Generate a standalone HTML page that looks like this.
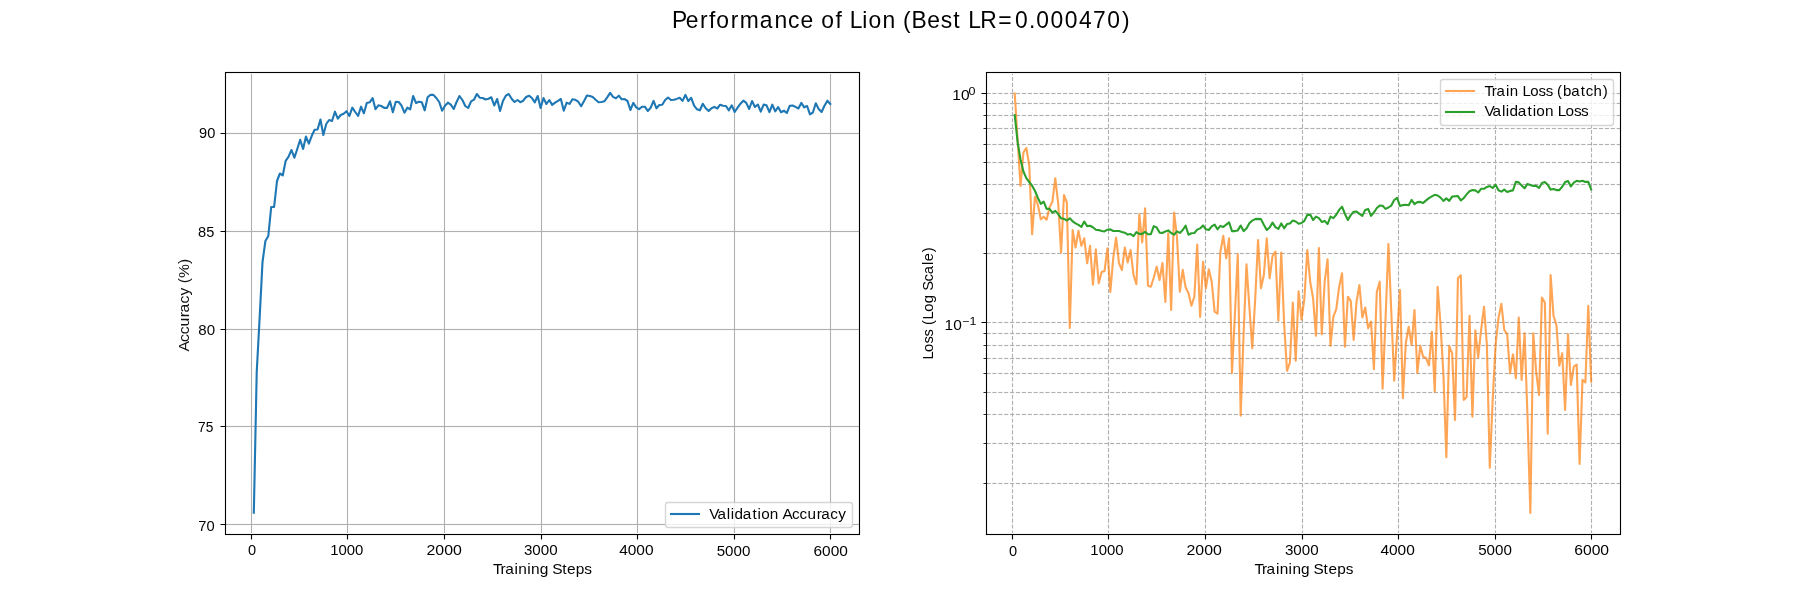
<!DOCTYPE html><html><head><meta charset="utf-8"><title>Performance of Lion</title><style>html,body{margin:0;padding:0;background:#fff;}svg{display:block;}text{font-family:"Liberation Sans",sans-serif;}</style></head><body>
<svg width="1800" height="600" viewBox="0 0 1800 600">
<rect x="0" y="0" width="1800" height="600" fill="#fff"/>
<defs><clipPath id="c1"><rect x="225.0" y="72.0" width="634.0909" height="462.0"/></clipPath><clipPath id="c2"><rect x="985.9091" y="72.0" width="634.0909" height="462.0"/></clipPath></defs>
<path d="M225.5 524.5H859.5M225.5 426.5H859.5M225.5 329.5H859.5M225.5 231.5H859.5M225.5 133.5H859.5" stroke="#fafafa" stroke-width="3" fill="none" clip-path="url(#c1)"/>
<path id="grid1" d="M251.5 72.5V534.5M347.5 72.5V534.5M444.5 72.5V534.5M541.5 72.5V534.5M637.5 72.5V534.5M734.5 72.5V534.5M830.5 72.5V534.5M225.5 524.5H859.5M225.5 426.5H859.5M225.5 329.5H859.5M225.5 231.5H859.5M225.5 133.5H859.5" stroke="#b0b0b0" stroke-width="1.1111" fill="none" clip-path="url(#c1)"/>
<path d="M986.5 483.5H1620.5M986.5 443.5H1620.5M986.5 414.5H1620.5M986.5 392.5H1620.5M986.5 373.5H1620.5M986.5 358.5H1620.5M986.5 345.5H1620.5M986.5 333.5H1620.5M986.5 322.5H1620.5M986.5 253.5H1620.5M986.5 213.5H1620.5M986.5 184.5H1620.5M986.5 162.5H1620.5M986.5 144.5H1620.5M986.5 128.5H1620.5M986.5 115.5H1620.5M986.5 103.5H1620.5M986.5 93.5H1620.5" stroke="#fafafa" stroke-width="3" fill="none" stroke-dasharray="4.111 1.778" clip-path="url(#c2)"/>
<path id="grid2" d="M1012.5 534.5V72.5M1108.5 534.5V72.5M1205.5 534.5V72.5M1302.5 534.5V72.5M1398.5 534.5V72.5M1495.5 534.5V72.5M1591.5 534.5V72.5M986.5 483.5H1620.5M986.5 443.5H1620.5M986.5 414.5H1620.5M986.5 392.5H1620.5M986.5 373.5H1620.5M986.5 358.5H1620.5M986.5 345.5H1620.5M986.5 333.5H1620.5M986.5 322.5H1620.5M986.5 253.5H1620.5M986.5 213.5H1620.5M986.5 184.5H1620.5M986.5 162.5H1620.5M986.5 144.5H1620.5M986.5 128.5H1620.5M986.5 115.5H1620.5M986.5 103.5H1620.5M986.5 93.5H1620.5" stroke="#b0b0b0" stroke-width="1.1111" fill="none" stroke-dasharray="4.111 1.778" clip-path="url(#c2)"/>
<polyline id="acc" points="253.82,512.70 256.72,372.00 259.62,318.00 262.51,262.00 265.41,241.00 268.31,236.00 271.20,207.00 274.10,207.00 277.00,181.00 279.89,173.50 282.79,175.40 285.69,160.80 288.58,156.70 291.48,150.00 294.38,157.70 297.27,149.00 300.17,139.80 303.07,149.00 305.96,136.60 308.86,143.70 311.76,135.80 314.65,129.80 317.55,129.50 320.45,119.50 323.34,135.00 326.24,124.00 329.14,120.00 332.03,121.00 334.93,111.70 337.83,118.70 340.72,115.00 343.62,113.70 346.52,111.20 349.41,116.00 352.31,107.70 355.21,112.00 358.10,116.00 361.00,106.70 363.90,113.20 366.79,103.00 369.69,102.30 372.59,98.00 375.48,109.20 378.38,105.30 381.28,106.00 384.17,107.90 387.07,107.90 389.97,101.30 392.86,112.30 395.76,101.70 398.66,102.00 401.55,105.70 404.45,112.70 407.35,107.70 410.24,109.30 413.14,96.00 416.04,103.00 418.93,101.70 421.83,102.30 424.73,110.30 427.62,97.30 430.52,94.70 433.42,94.90 436.31,98.00 439.21,102.00 442.11,110.70 445.00,105.70 447.90,102.70 450.80,104.70 453.69,109.00 456.59,102.00 459.49,96.00 462.39,100.00 465.28,106.00 468.18,108.00 471.08,101.30 473.97,99.70 476.87,94.00 479.77,97.70 482.66,98.00 485.56,99.50 488.46,98.70 491.35,97.30 494.25,105.50 497.15,99.00 500.04,111.00 502.94,101.00 505.84,95.70 508.73,94.00 511.63,98.70 514.53,102.00 517.42,100.00 520.32,102.20 523.22,100.70 526.11,97.00 529.01,95.70 531.91,98.00 534.80,102.30 537.70,96.00 540.60,108.00 543.49,98.00 546.39,104.00 549.29,100.00 552.18,104.90 555.08,102.70 557.98,100.90 560.87,99.00 563.77,110.70 566.67,102.70 569.56,103.90 572.46,99.30 575.36,99.80 578.25,101.70 581.15,106.20 584.05,101.00 586.94,95.50 589.84,96.00 592.74,97.10 595.63,99.80 598.53,102.20 601.43,102.00 604.32,101.30 607.22,97.30 610.12,92.90 613.01,96.90 615.91,98.20 618.81,95.70 621.70,99.30 624.60,99.10 627.50,101.00 630.39,110.00 633.29,102.90 636.19,107.30 639.08,109.10 641.98,106.70 644.88,106.70 647.77,111.00 650.67,107.70 653.57,100.90 656.46,108.30 659.36,105.00 662.26,104.70 665.15,100.00 668.05,97.50 670.95,100.00 673.84,99.80 676.74,98.90 679.64,97.70 682.53,100.90 685.43,94.90 688.33,101.10 691.22,97.80 694.12,105.70 697.02,109.30 699.91,110.30 702.81,103.80 705.71,108.30 708.60,110.90 711.50,108.20 714.40,106.90 717.29,108.50 720.19,104.70 723.09,105.80 725.98,106.00 728.88,110.30 731.78,105.30 734.67,112.00 737.57,107.70 740.47,103.70 743.37,100.60 746.26,102.90 749.16,109.00 752.06,101.00 754.95,107.00 757.85,104.50 760.75,111.70 763.64,104.60 766.54,105.30 769.44,112.10 772.33,104.70 775.23,111.30 778.13,107.00 781.02,112.20 783.92,110.70 786.82,113.00 789.71,105.80 792.61,105.50 795.51,106.90 798.40,108.50 801.30,102.90 804.20,107.30 807.09,106.00 809.99,114.30 812.89,112.50 815.78,103.30 818.68,109.00 821.58,112.00 824.47,105.70 827.37,100.70 830.27,104.00" fill="none" stroke="#1f77b4" stroke-width="2.11" stroke-linejoin="round" stroke-linecap="square" clip-path="url(#c1)"/>
<polyline id="tl" points="1014.73,93.50 1017.63,140.00 1020.53,186.00 1023.42,152.50 1026.32,148.00 1029.22,165.00 1032.11,234.20 1035.01,196.70 1037.91,205.00 1040.80,219.20 1043.70,216.70 1046.60,219.70 1049.49,207.50 1052.39,201.70 1055.29,178.30 1058.18,203.30 1061.08,252.50 1063.98,195.00 1066.87,202.50 1069.77,328.00 1072.67,230.00 1075.56,247.50 1078.46,230.80 1081.36,245.80 1084.25,238.30 1087.15,263.30 1090.05,245.80 1092.94,284.70 1095.84,249.20 1098.74,283.30 1101.63,272.00 1104.53,271.00 1107.43,248.30 1110.32,292.00 1113.22,258.30 1116.12,237.50 1119.01,263.30 1121.91,270.00 1124.81,247.50 1127.70,262.50 1130.60,250.00 1133.50,275.00 1136.39,284.20 1139.29,214.20 1142.19,242.50 1145.08,208.30 1147.98,285.80 1150.88,286.70 1153.77,277.50 1156.67,266.70 1159.57,280.00 1162.46,263.00 1165.36,302.00 1168.26,233.30 1171.15,310.00 1174.05,212.50 1176.95,236.70 1179.84,291.70 1182.74,269.80 1185.64,287.50 1188.53,293.30 1191.43,305.80 1194.33,296.70 1197.22,244.60 1200.12,317.00 1203.02,261.70 1205.91,288.30 1208.81,269.20 1211.71,281.70 1214.60,311.70 1217.50,313.70 1220.40,251.70 1223.29,235.80 1226.19,258.30 1229.09,238.30 1231.98,373.00 1234.88,315.00 1237.78,254.20 1240.67,415.80 1243.57,335.00 1246.47,264.20 1249.36,306.70 1252.26,348.30 1255.16,300.00 1258.05,240.00 1260.95,288.30 1263.85,275.00 1266.74,238.30 1269.64,278.30 1272.54,255.80 1275.43,251.70 1278.33,320.80 1281.23,252.50 1284.12,323.30 1287.02,370.80 1289.92,362.50 1292.81,302.50 1295.71,360.80 1298.61,291.30 1301.51,319.70 1304.40,298.30 1307.30,250.00 1310.20,281.70 1313.09,298.30 1315.99,335.80 1318.89,248.00 1321.78,334.20 1324.68,281.70 1327.58,259.20 1330.47,345.80 1333.37,316.70 1336.27,309.20 1339.16,286.70 1342.06,273.30 1344.96,346.70 1347.85,296.70 1350.75,300.80 1353.65,340.00 1356.54,301.70 1359.44,285.00 1362.34,317.50 1365.23,307.50 1368.13,328.30 1371.03,321.70 1373.92,369.20 1376.82,291.70 1379.72,281.70 1382.61,388.80 1385.51,320.00 1388.41,244.00 1391.30,312.00 1394.20,380.80 1397.10,335.00 1399.99,290.00 1402.89,398.30 1405.79,343.30 1408.68,326.70 1411.58,345.00 1414.48,310.00 1417.37,373.00 1420.27,345.80 1423.17,356.70 1426.06,358.00 1428.96,365.30 1431.86,331.70 1434.75,391.70 1437.65,286.70 1440.55,325.00 1443.44,375.00 1446.34,457.30 1449.24,345.80 1452.13,353.30 1455.03,420.00 1457.93,278.30 1460.82,275.30 1463.72,400.00 1466.62,397.00 1469.51,315.80 1472.41,416.70 1475.31,330.30 1478.20,357.50 1481.10,330.00 1484.00,306.70 1486.89,345.00 1489.79,467.80 1492.69,400.00 1495.58,345.00 1498.48,318.00 1501.38,303.80 1504.27,330.00 1507.17,334.20 1510.07,373.30 1512.96,354.20 1515.86,378.30 1518.76,317.50 1521.65,380.00 1524.55,333.30 1527.45,415.00 1530.34,513.00 1533.24,333.30 1536.14,371.70 1539.03,395.00 1541.93,297.50 1544.83,302.50 1547.72,433.80 1550.62,275.00 1553.52,315.80 1556.41,325.00 1559.31,365.80 1562.21,353.30 1565.10,410.00 1568.00,334.20 1570.90,385.00 1573.79,366.70 1576.69,364.70 1579.59,464.00 1582.48,379.70 1585.38,382.50 1588.28,305.80 1591.18,381.70" fill="none" stroke="#ff7f0e" stroke-opacity="0.7" stroke-width="2.11" stroke-linejoin="round" stroke-linecap="square" clip-path="url(#c2)"/>
<polyline id="vl" points="1014.73,115.20 1017.63,142.20 1020.53,159.50 1023.42,171.50 1026.32,178.20 1029.22,182.00 1032.11,185.70 1035.01,191.00 1037.91,198.00 1040.80,203.90 1043.70,201.60 1046.60,208.90 1049.49,208.90 1052.39,212.60 1055.29,210.90 1058.18,214.10 1061.08,218.30 1063.98,218.90 1066.87,220.50 1069.77,218.30 1072.67,221.30 1075.56,223.40 1078.46,224.90 1081.36,226.90 1084.25,221.60 1087.15,226.10 1090.05,225.80 1092.94,227.30 1095.84,229.70 1098.74,230.10 1101.63,231.00 1104.53,231.40 1107.43,229.70 1110.32,229.40 1113.22,231.00 1116.12,231.00 1119.01,231.00 1121.91,231.90 1124.81,232.70 1127.70,234.60 1130.60,234.00 1133.50,236.10 1136.39,232.10 1139.29,233.90 1142.19,233.90 1145.08,231.80 1147.98,234.20 1150.88,234.20 1153.77,226.20 1156.67,227.40 1159.57,232.60 1162.46,233.00 1165.36,231.40 1168.26,230.40 1171.15,233.00 1174.05,234.70 1176.95,231.40 1179.84,232.90 1182.74,230.00 1185.64,225.70 1188.53,234.70 1191.43,233.20 1194.33,233.00 1197.22,229.60 1200.12,228.40 1203.02,225.40 1205.91,229.30 1208.81,230.00 1211.71,226.30 1214.60,224.60 1217.50,229.30 1220.40,225.90 1223.29,227.00 1226.19,224.60 1229.09,222.40 1231.98,231.10 1234.88,231.10 1237.78,230.40 1240.67,225.50 1243.57,231.10 1246.47,228.50 1249.36,223.30 1252.26,220.60 1255.16,219.10 1258.05,218.90 1260.95,219.10 1263.85,224.80 1266.74,230.00 1269.64,227.50 1272.54,222.60 1275.43,227.10 1278.33,228.90 1281.23,223.40 1284.12,228.30 1287.02,224.10 1289.92,223.40 1292.81,220.60 1295.71,221.50 1298.61,223.80 1301.51,223.00 1304.40,220.80 1307.30,214.90 1310.20,214.60 1313.09,220.00 1315.99,216.60 1318.89,218.10 1321.78,221.90 1324.68,220.90 1327.58,224.10 1330.47,216.60 1333.37,218.10 1336.27,214.80 1339.16,209.90 1342.06,206.70 1344.96,214.00 1347.85,220.00 1350.75,215.10 1353.65,211.80 1356.54,211.60 1359.44,213.90 1362.34,215.90 1365.23,209.90 1368.13,208.90 1371.03,215.90 1373.92,212.50 1376.82,208.00 1379.72,205.60 1382.61,205.80 1385.51,208.90 1388.41,207.50 1391.30,205.60 1394.20,200.00 1397.10,197.80 1399.99,206.00 1402.89,205.10 1405.79,204.70 1408.68,205.30 1411.58,199.90 1414.48,204.10 1417.37,202.10 1420.27,201.90 1423.17,203.00 1426.06,200.40 1428.96,198.10 1431.86,196.40 1434.75,194.80 1437.65,195.50 1440.55,197.60 1443.44,200.90 1446.34,198.40 1449.24,200.90 1452.13,196.60 1455.03,196.30 1457.93,196.10 1460.82,200.40 1463.72,198.10 1466.62,194.40 1469.51,191.20 1472.41,190.10 1475.31,190.40 1478.20,192.50 1481.10,188.80 1484.00,188.80 1486.89,186.90 1489.79,186.10 1492.69,188.00 1495.58,184.80 1498.48,190.20 1501.38,191.60 1504.27,189.60 1507.17,192.00 1510.07,190.90 1512.96,190.40 1515.86,181.90 1518.76,182.40 1521.65,185.60 1524.55,188.30 1527.45,183.90 1530.34,184.90 1533.24,185.90 1536.14,185.90 1539.03,187.90 1541.93,182.90 1544.83,182.10 1547.72,184.70 1550.62,189.60 1553.52,189.00 1556.41,190.10 1559.31,190.10 1562.21,186.80 1565.10,182.10 1568.00,181.10 1570.90,186.40 1573.79,182.60 1576.69,180.80 1579.59,181.50 1582.48,180.80 1585.38,181.90 1588.28,181.90 1591.18,189.50" fill="none" stroke="#2ca02c" stroke-width="2.09" stroke-linejoin="round" stroke-linecap="square" clip-path="url(#c2)"/>
<path d="M224.94 72.5H860.06M224.94 534.5H860.06" stroke="#f1f1f1" stroke-width="3" fill="none"/>
<path id="sp1" d="M225.5 534.5V72.5M859.5 534.5V72.5M224.94 72.5H860.06M224.94 534.5H860.06" stroke="#000" stroke-width="1.1111" fill="none" stroke-linecap="butt"/>
<path d="M985.94 72.5H1621.06M985.94 534.5H1621.06" stroke="#f1f1f1" stroke-width="3" fill="none"/>
<path id="sp2" d="M986.5 534.5V72.5M1620.5 534.5V72.5M985.94 72.5H1621.06M985.94 534.5H1621.06" stroke="#000" stroke-width="1.1111" fill="none" stroke-linecap="butt"/>
<path id="ticks" d="M251.5 534.5v5.0M347.5 534.5v5.0M444.5 534.5v5.0M541.5 534.5v5.0M637.5 534.5v5.0M734.5 534.5v5.0M830.5 534.5v5.0M1012.5 534.5v5.0M1108.5 534.5v5.0M1205.5 534.5v5.0M1302.5 534.5v5.0M1398.5 534.5v5.0M1495.5 534.5v5.0M1591.5 534.5v5.0M225.5 524.5h-5.0M225.5 426.5h-5.0M225.5 329.5h-5.0M225.5 231.5h-5.0M225.5 133.5h-5.0M986.5 322.5h-5.0M986.5 93.5h-5.0" stroke="#000" stroke-width="1.1111" fill="none"/>
<path id="mticks" d="M986.5 483.5h-3.0M986.5 443.5h-3.0M986.5 414.5h-3.0M986.5 392.5h-3.0M986.5 373.5h-3.0M986.5 358.5h-3.0M986.5 345.5h-3.0M986.5 333.5h-3.0M986.5 253.5h-3.0M986.5 213.5h-3.0M986.5 184.5h-3.0M986.5 162.5h-3.0M986.5 144.5h-3.0M986.5 128.5h-3.0M986.5 115.5h-3.0M986.5 103.5h-3.0" stroke="#000" stroke-width="0.8333" fill="none"/>
<rect id="leg1" x="665.5" y="502.5" width="187.0" height="25.0" rx="2.7778" ry="2.7778" fill="#fff" fill-opacity="0.8" stroke="#cccccc" stroke-opacity="0.8" stroke-width="1.3889"/>
<path d="M671 514H699" stroke="#1f77b4" stroke-width="2.11" stroke-linecap="square"/>
<rect id="leg2" x="1440.5" y="79.5" width="173.0" height="46.0" rx="2.7778" ry="2.7778" fill="#fff" fill-opacity="0.8" stroke="#cccccc" stroke-opacity="0.8" stroke-width="1.3889"/>
<path d="M1446 91H1474" stroke="#ff7f0e" stroke-opacity="0.7" stroke-width="2.11" stroke-linecap="square"/>
<path d="M1446 112H1474" stroke="#2ca02c" stroke-width="2.11" stroke-linecap="square"/>
<g style="opacity:0.999">
<text id="title" transform="scale(0.9900,1)" x="678.80 692.63 707.08 716.25 723.62 738.14 747.27 767.36 782.24 795.90 808.67 821.90 829.55 843.90 850.82 858.32 871.08 877.28 891.33 904.86 912.01 920.73 936.70 950.16 962.81 970.52 978.02 990.04 1008.41 1025.27 1039.30 1046.73 1061.13 1075.52 1089.91 1104.14 1118.45 1133.25" y="28.00" font-size="23.1">Performance of Lion (Best LR=0.000470)</text>
<text id="ax1_xt_0" x="247.93" y="555.33" font-size="14.7" textLength="8.14" lengthAdjust="spacingAndGlyphs">0</text>
<text id="ax1_xt_1000" x="330.13" y="555.33" font-size="14.9" textLength="33.19" lengthAdjust="spacingAndGlyphs">1000</text>
<text id="ax1_xt_2000" x="426.47" y="555.33" font-size="14.8" textLength="35.38" lengthAdjust="spacingAndGlyphs">2000</text>
<text id="ax1_xt_3000" x="523.93" y="555.33" font-size="14.8" textLength="33.65" lengthAdjust="spacingAndGlyphs">3000</text>
<text id="ax1_xt_4000" x="619.16" y="555.33" font-size="14.8" textLength="34.42" lengthAdjust="spacingAndGlyphs">4000</text>
<text id="ax1_xt_5000" x="716.65" y="555.83" font-size="14.8" textLength="33.68" lengthAdjust="spacingAndGlyphs">5000</text>
<text id="ax1_xt_6000" x="813.47" y="555.83" font-size="14.8" textLength="34.39" lengthAdjust="spacingAndGlyphs">6000</text>
<text id="ax1_xlabel" transform="scale(1.0600,1)" x="465.09 472.17 476.55 485.45 489.02 497.36 500.93 509.09 517.43 520.92 530.32 535.00 543.20 551.26" y="573.58" font-size="14.6" fill="#040404">Training Steps</text>
<text id="ax2_xt_0" x="1008.93" y="555.83" font-size="14.7" textLength="8.14" lengthAdjust="spacingAndGlyphs">0</text>
<text id="ax2_xt_1000" x="1090.38" y="555.33" font-size="14.8" textLength="33.19" lengthAdjust="spacingAndGlyphs">1000</text>
<text id="ax2_xt_2000" x="1186.47" y="555.33" font-size="14.8" textLength="35.38" lengthAdjust="spacingAndGlyphs">2000</text>
<text id="ax2_xt_3000" x="1284.93" y="555.33" font-size="14.8" textLength="33.65" lengthAdjust="spacingAndGlyphs">3000</text>
<text id="ax2_xt_4000" x="1380.41" y="555.33" font-size="14.8" textLength="34.42" lengthAdjust="spacingAndGlyphs">4000</text>
<text id="ax2_xt_5000" x="1478.15" y="555.33" font-size="14.8" textLength="33.68" lengthAdjust="spacingAndGlyphs">5000</text>
<text id="ax2_xt_6000" x="1574.21" y="555.33" font-size="14.8" textLength="34.89" lengthAdjust="spacingAndGlyphs">6000</text>
<text id="ax2_xlabel" transform="scale(1.0600,1)" x="1183.44 1190.50 1194.89 1203.77 1207.36 1215.68 1219.27 1227.43 1235.75 1239.27 1248.64 1253.34 1261.54 1269.59" y="573.58" font-size="14.5">Training Steps</text>
<text id="ax1_yt_70" x="198.25" y="530.83" font-size="14.8" textLength="16.33" lengthAdjust="spacingAndGlyphs">70</text>
<text id="ax1_yt_75" x="198.05" y="432.18" font-size="15.0" textLength="15.28" lengthAdjust="spacingAndGlyphs">75</text>
<text id="ax1_yt_80" x="198.32" y="334.83" font-size="14.8" textLength="16.78" lengthAdjust="spacingAndGlyphs" fill="#080808">80</text>
<text id="ax1_yt_85" x="198.12" y="236.83" font-size="14.8" textLength="16.25" lengthAdjust="spacingAndGlyphs">85</text>
<text id="ax1_yt_90" x="199.06" y="138.33" font-size="14.8" textLength="16.26" lengthAdjust="spacingAndGlyphs">90</text>
<text id="ax1_ylabel" transform="translate(188.83,348.94) rotate(-90) scale(1.0750,1)" x="-2.31 6.48 13.58 20.94 29.52 33.81 42.18 49.70 57.21 61.00 66.04 79.07" y="0" font-size="14.6" fill="#101010">Accuracy (%)</text>
<text id="ax2_ylabel" transform="translate(932.58,359.06) rotate(-90) scale(0.9850,1)" x="-0.46 7.25 15.76 22.99 30.20 34.52 40.27 47.99 56.69 65.48 69.47 78.76 86.16 95.60 99.43 108.50" y="0" font-size="15.0" fill="#040404">Loss (Log Scale)</text>
<text id="ax1_leg" transform="scale(1.0350,1)" x="685.25 693.16 702.24 705.99 709.58 717.56 726.95 731.96 735.47 743.85 752.14 756.02 765.13 772.50 780.15 789.03 793.52 802.21 810.02" y="518.58" font-size="14.8" fill="#040404">Validation Accuracy</text>
<text id="ax2_leg1" transform="scale(1.0300,1)" x="1441.17 1448.41 1452.95 1462.03 1465.78 1474.03 1478.24 1485.63 1493.77 1500.69 1507.65 1511.72 1517.53 1525.40 1534.80 1539.46 1547.19 1556.03" y="95.58" font-size="14.6">Train Loss (batch)</text>
<text id="ax2_leg2" transform="scale(1.0650,1)" x="1393.79 1401.48 1410.31 1413.95 1417.43 1425.19 1434.32 1439.19 1442.59 1450.74 1458.80 1462.79 1469.94 1477.83 1484.52" y="115.58" font-size="14.4">Validation Loss</text>
<text id="ax2_yt_m1_10" x="944.60" y="329.83" font-size="14.8" textLength="17.23" lengthAdjust="spacingAndGlyphs">10</text>
<text id="ax2_yt_m1_sup" x="962.13" y="324.66" font-size="10.4" textLength="14.22" lengthAdjust="spacingAndGlyphs">−1</text>
<text id="ax2_yt_0_10" x="952.35" y="100.33" font-size="14.8" textLength="17.23" lengthAdjust="spacingAndGlyphs">10</text>
<text id="ax2_yt_0_sup" x="968.51" y="95.26" font-size="10.4" textLength="6.98" lengthAdjust="spacingAndGlyphs">0</text>
</g>
</svg></body></html>
